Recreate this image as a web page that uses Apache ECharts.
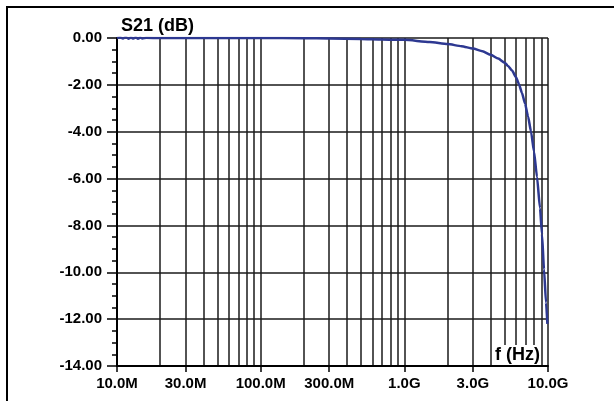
<!DOCTYPE html>
<html><head><meta charset="utf-8">
<script src="https://cdn.jsdelivr.net/npm/echarts@6/dist/echarts.min.js"></script>
<style>html,body{margin:0;padding:0;background:#fff}#c{width:614px;height:401px}</style>
</head><body><div id="c"></div>
<script>
// Frequency points (Hz)
const freqHz = [
  1.0e7, 1.05e7, 1.1e7, 1.15e7, 1.2e7, 1.25e7, 1.3e7, 1.35e7, 1.4e7, 1.45e7, 1.5e7, 1.6e7,
  2e7, 3e7, 5e7, 1e8, 2e8, 3e8, 5e8, 7e8,
  1e9, 1.5e9, 2e9, 2.5e9, 3e9, 3.5e9, 4e9, 4.5e9, 5e9, 5.27e9, 5.62e9, 5.99e9, 6.28e9,
  6.59e9, 6.92e9, 7.26e9, 7.62e9, 7.99e9, 8.38e9, 8.80e9, 9.08e9, 9.38e9, 9.69e9, 9.9e9
];
// S21 magnitude (dB)
const s21dB = [
  0.00, 0.03, -0.02, 0.04, -0.03, 0.02, -0.02, 0.03, -0.03, 0.02, -0.02, 0.01,
  0.00, 0.00, 0.00, 0.00, -0.01, -0.02, -0.04, -0.06,
  -0.08, -0.17, -0.26, -0.35, -0.45, -0.57, -0.72, -0.88, -1.06, -1.19, -1.39, -1.67, -1.97,
  -2.35, -2.80, -3.34, -4.00, -4.84, -5.92, -7.27, -8.37, -9.87, -11.30, -12.20
];
// X axis labelled ticks
const xLabelValues = [1e7, 3e7, 1e8, 3e8, 1e9, 3e9, 1e10];
const xLabelTexts = ['10.0M', '30.0M', '100.0M', '300.0M', '1.0G', '3.0G', '10.0G'];
// X grid lines (1-2-3-...-9 per decade)
const xGridValues = [
  2e7, 3e7, 4e7, 5e7, 6e7, 7e7, 8e7, 9e7,
  1e8, 2e8, 3e8, 4e8, 5e8, 6e8, 7e8, 8e8, 9e8,
  1e9, 2e9, 3e9, 4e9, 5e9, 6e9, 7e9, 8e9, 9e9, 1e10
];
// Y axis
const yMin = -14, yMax = 0, yStep = 2;
const yTitle = 'S21 (dB)';
const xTitle = 'f (Hz)';

const chart = echarts.init(document.getElementById('c'), null, {renderer: 'canvas'});
const gridLine = {color: '#1a1a1a', width: 1.5};
const labelFont = {color: '#000', fontWeight: 'bold', fontSize: 15, fontFamily: 'Liberation Sans'};

function xLabelFor(v) {
  for (let i = 0; i < xLabelValues.length; i++) {
    if (Math.abs(v - xLabelValues[i]) / xLabelValues[i] < 1e-6) return xLabelTexts[i];
  }
  return '';
}

chart.setOption({
  animation: false,
  backgroundColor: '#fff',
  grid: {left: 117, top: 38, width: 431, height: 328, containLabel: false},
  title: {
    text: yTitle, left: 116, top: 12,
    textStyle: {color: '#000', fontWeight: 'bold', fontSize: 18, fontFamily: 'Liberation Sans'}
  },
  xAxis: [{
    type: 'log', logBase: 10, min: 1e7, max: 1e10, position: 'bottom',
    axisLine: {show: true, onZero: false, lineStyle: {color: '#000', width: 2}},
    axisTick: {show: true, customValues: xLabelValues, length: 6, lineStyle: {color: '#000', width: 1.5}},
    axisLabel: Object.assign({customValues: xLabelValues, margin: 10, formatter: (v) => xLabelFor(v)}, labelFont),
    splitLine: {show: false},
    minorTick: {show: false}
  }, {
    type: 'log', logBase: 10, min: 1e7, max: 1e10, position: 'bottom',
    axisLine: {show: false},
    axisTick: {show: false, customValues: xGridValues},
    axisLabel: {show: false},
    splitLine: {show: true, lineStyle: gridLine}
  }],
  yAxis: {
    type: 'value', min: yMin, max: yMax, interval: yStep,
    axisLine: {show: true, lineStyle: {color: '#000', width: 2}},
    axisTick: {show: true, length: 10, lineStyle: {color: '#000', width: 1.5}},
    minorTick: {show: true, splitNumber: 4, length: 5, lineStyle: {color: '#000', width: 1.5}},
    axisLabel: Object.assign({margin: 15, formatter: (v) => v.toFixed(2)}, labelFont),
    splitLine: {show: true, lineStyle: gridLine}
  },
  graphic: [
    {type: 'line', z: 100, silent: true, shape: {x1: 6, y1: 7, x2: 614, y2: 7},
     style: {stroke: '#000', lineWidth: 2}},
    {type: 'line', z: 100, silent: true, shape: {x1: 7, y1: 6, x2: 7, y2: 401},
     style: {stroke: '#000', lineWidth: 2}},
    {type: 'text', z: 50, left: 494, top: 345, silent: true,
     style: {text: xTitle, fill: '#000', font: 'bold 18px "Liberation Sans"', backgroundColor: '#fff', padding: [1, 1, 1, 1]}}
  ],
  series: [{
    type: 'line', xAxisIndex: 0, showSymbol: false, z: 60,
    smooth: 0.2, smoothMonotone: 'x',
    data: freqHz.map((f, i) => [f, s21dB[i]]),
    lineStyle: {color: '#2d3891', width: 2.5},
    itemStyle: {color: '#2d3891'}
  }]
});
</script></body></html>
